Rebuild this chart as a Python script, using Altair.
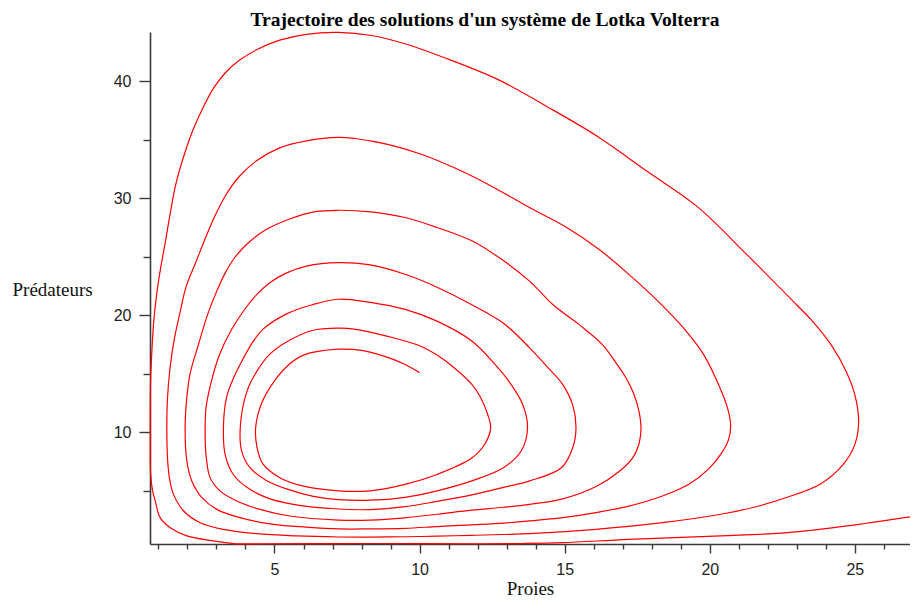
import altair as alt
import pandas as pd

# Trajectory points (prey, predator), in order along the curve
prey = [
    10.0, 9.5, 8.9, 8.0, 7.2,
    6.0, 5.5, 5.0, 4.56, 4.35, 4.4, 4.6, 5.2, 6.0, 7.2, 8.3, 9.5, 10.6, 11.8, 12.25, 12.45, 12.35, 12.1, 11.8, 11.2, 10.6, 10.0, 8.9, 7.8, 7.2,
    6.3, 5.4, 4.85, 4.4, 4.05, 3.82, 3.87, 4.15, 4.75, 5.5, 6.3, 7.2, 8.3, 9.5, 10.6, 11.8, 12.9, 13.5, 13.72, 13.55, 13.15, 12.6, 11.8, 10.6, 9.5, 8.3, 7.2,
    6.3, 5.4, 4.6, 4.25, 3.9, 3.6, 3.35, 3.24, 3.3, 3.58, 4.05, 4.75, 5.65, 7.2, 8.3, 9.5, 10.6, 11.8, 12.9, 13.8, 14.9, 15.28, 15.39, 15.28, 14.93, 14.36, 13.8, 12.9, 11.8, 10.6, 9.5, 8.3, 7.2,
    6.1, 5.4, 4.85, 4.4, 4.0, 3.5, 3.1, 2.8, 2.64, 2.61, 2.64, 2.78, 3.12, 3.7, 4.5, 5.53, 7.2, 8.3, 9.5, 10.6, 11.8, 12.9, 13.8, 14.9, 16.1, 16.9, 17.35, 17.56, 17.63, 17.56, 17.38, 17.1, 16.75, 16.3, 15.5, 14.6, 13.8, 12.9, 11.8, 10.6, 9.5, 8.3, 7.2,
    6.4, 5.5, 4.7, 4.1, 3.65, 3.3, 3.0, 2.7, 2.38, 2.09, 1.98, 1.92, 1.98, 2.15, 2.5, 3.01, 3.81, 4.96, 6.1, 7.2, 8.3, 9.5, 10.6, 11.8, 12.9, 13.8, 14.93, 16.08, 17.22, 18.37, 19.28, 19.97, 20.4, 20.65, 20.72, 20.62, 20.35, 19.8, 19.1, 18.3, 17.3, 16.2, 15.0, 13.79, 12.35, 11.2, 10.06, 8.9, 7.77, 7.2,
    6.1, 5.18, 4.38, 3.8, 3.33, 2.95, 2.67, 2.3, 1.95, 1.75, 1.55, 1.4, 1.31, 1.29, 1.32, 1.4, 1.52, 1.87, 2.44, 3.24, 4.38, 5.76, 7.2, 8.3, 9.5, 10.6, 11.8, 12.9, 13.79, 16.08, 18.37, 20.38, 21.52, 22.67, 23.8, 24.6, 25.0, 25.13, 25.0, 24.7, 24.2, 23.5, 22.99, 21.27, 19.56, 17.84, 16.12, 14.41, 12.69, 10.86, 9.49, 8.34, 7.2,
    6.1, 5.18, 4.4, 3.8, 3.3, 2.9, 2.55, 2.2, 1.9, 1.6, 1.4, 1.22, 1.06, 0.95, 0.84, 0.77, 0.73, 0.72, 0.72, 0.73, 0.8, 0.89, 1.06, 1.41, 1.98, 2.9, 3.6, 4.6, 7.2, 10.0, 12.0, 13.5, 14.93, 17.22, 20.38, 22.67, 24.96, 26.9,
]
predators = [
    15.1, 15.8, 16.4, 17.0, 17.1,
    16.6, 15.8, 14.4, 12.5, 10.4, 8.7, 7.3, 6.1, 5.4, 5.0, 5.0, 5.55, 6.4, 7.8, 9.0, 10.4, 11.5, 13.0, 14.1, 15.5, 16.6, 17.4, 18.2, 18.8, 18.9,
    18.7, 17.7, 16.7, 15.25, 13.5, 10.4, 8.4, 7.0, 5.85, 5.1, 4.55, 4.25, 4.2, 4.45, 5.0, 5.85, 7.0, 8.4, 10.4, 12.4, 14.1, 15.8, 17.8, 19.5, 20.5, 21.1, 21.37,
    20.9, 20.1, 18.8, 17.7, 16.2, 14.7, 13.0, 10.4, 8.1, 6.4, 5.3, 4.4, 3.85, 3.45, 3.4, 3.65, 4.1, 4.65, 5.3, 5.85, 7.0, 8.7, 10.4, 12.3, 14.1, 15.7, 17.2, 19.3, 20.9, 22.4, 23.5, 24.3, 24.5,
    24.2, 23.6, 22.8, 21.8, 20.6, 18.7, 16.6, 14.1, 12.1, 10.4, 8.1, 6.13, 5.0, 4.14, 3.42, 2.85, 2.5, 2.5, 2.7, 3.0, 3.35, 3.6, 3.85, 4.3, 5.4, 6.7, 7.84, 9.0, 10.4, 11.8, 13.3, 14.7, 16.0, 17.5, 19.2, 20.9, 22.9, 24.65, 26.36, 27.5, 28.35, 28.84, 28.97,
    28.85, 28.2, 27.3, 26.2, 25.0, 23.6, 22.0, 20.1, 17.5, 15.0, 13.0, 10.4, 7.55, 5.85, 4.42, 3.42, 2.71, 2.14, 1.9, 1.75, 1.75, 1.8, 1.95, 2.1, 2.25, 2.43, 2.71, 3.14, 3.7, 4.56, 5.56, 6.9, 8.2, 9.4, 10.6, 12.0, 13.8, 16.6, 18.9, 21.0, 23.3, 25.6, 27.6, 29.2, 31.2, 32.6, 33.76, 34.6, 35.1, 35.2,
    34.9, 34.3, 33.2, 31.9, 30.3, 28.5, 26.9, 24.6, 22.4, 20.3, 18.0, 15.5, 12.8, 10.4, 7.5, 5.8, 4.7, 3.28, 2.28, 1.71, 1.34, 1.15, 1.06, 1.05, 1.08, 1.13, 1.2, 1.27, 1.34, 1.71, 2.28, 3.0, 3.6, 4.45, 5.56, 7.26, 8.97, 10.9, 13.2, 15.2, 17.4, 19.6, 20.9, 25.2, 29.3, 32.3, 35.3, 37.8, 40.15, 42.0, 43.2, 43.9, 44.16,
    44.0, 43.5, 42.7, 41.8, 40.7, 39.4, 37.8, 35.9, 33.8, 31.2, 28.6, 26.0, 23.8, 22.0, 19.5, 16.7, 14.5, 12.0, 9.0, 6.5, 5.0, 4.14, 2.71, 1.85, 1.15, 0.72, 0.5, 0.48, 0.5, 0.5, 0.48, 0.5, 0.57, 0.86, 1.15, 1.43, 2.08, 2.77,
]

x_major = [5, 10, 15, 20, 25]
x_minor = [1, 2, 3, 4, 6, 7, 8, 9, 11, 12, 13, 14, 16, 17, 18, 19, 21, 22, 23, 24, 26]
y_major = [10, 20, 30, 40]
y_minor = [5, 15, 25, 35]
x_domain = [0.71, 26.9]
y_domain = [0.46, 44.2]

title_text = "Trajectoire des solutions d'un système de Lotka Volterra"
x_title = "Proies"
y_title = "Prédateurs"

df = pd.DataFrame({"prey": prey, "pred": predators, "i": list(range(len(prey)))})

axis_color = "#3a3a3a"
label_font = "Liberation Sans"
serif = "Liberation Serif"

x_scale = alt.Scale(domain=x_domain, nice=False, zero=False)
y_scale = alt.Scale(domain=y_domain, nice=False, zero=False)

line = alt.Chart(df).mark_line(
    color="#ff0000", strokeWidth=1.2, interpolate="catmull-rom"
).encode(
    x=alt.X("prey:Q", scale=x_scale, axis=alt.Axis(
        orient="bottom", values=x_major, tickSize=9, tickWidth=1.4, tickColor=axis_color,
        domainColor=axis_color, domainWidth=1.6, grid=False,
        labelFont=label_font, labelFontSize=16, labelColor="#222", labelPadding=8,
        title=x_title, titleFont=serif, titleFontSize=19, titleFontWeight="normal",
        titleColor="#111", titleBaseline="alphabetic", titleY=50,
    )),
    y=alt.Y("pred:Q", scale=y_scale, axis=alt.Axis(
        orient="left", values=y_major, tickSize=11, tickWidth=1.4, tickColor=axis_color,
        domainColor=axis_color, domainWidth=1.6, grid=False,
        labelFont=label_font, labelFontSize=16, labelColor="#222", labelPadding=8,
        title=y_title, titleFont=serif, titleFontSize=19, titleFontWeight="normal",
        titleColor="#111", titleAngle=0, titleAlign="left", titleBaseline="alphabetic",
        titleX=-138, titleY=263,
    )),
    order="i:Q",
)

minor = alt.Chart(df).mark_point(opacity=0).encode(
    x=alt.X("prey:Q", scale=x_scale, axis=alt.Axis(
        orient="bottom", values=x_minor, tickSize=5, tickWidth=1.4, tickColor=axis_color,
        domain=False, labels=False, grid=False, title=None,
    )),
    y=alt.Y("pred:Q", scale=y_scale, axis=alt.Axis(
        orient="left", values=y_minor, tickSize=7, tickWidth=1.4, tickColor=axis_color,
        domain=False, labels=False, grid=False, title=None,
    )),
)

chart = alt.layer(minor, line).resolve_axis(x="independent", y="independent").properties(
    width=760,
    height=512,
    autosize=alt.AutoSizeParams(type="none"),
    padding={"left": 142, "top": 24, "right": 0, "bottom": 56},
    title=alt.Title(
        title_text, font=serif, fontSize=19.5, fontWeight="bold", color="#000",
        anchor="middle", dx=-45, dy=22, offset=6, baseline="alphabetic",
    ),
).configure_view(stroke=None)

chart.save("out.html", embed_options={"renderer": "svg", "actions": False})
